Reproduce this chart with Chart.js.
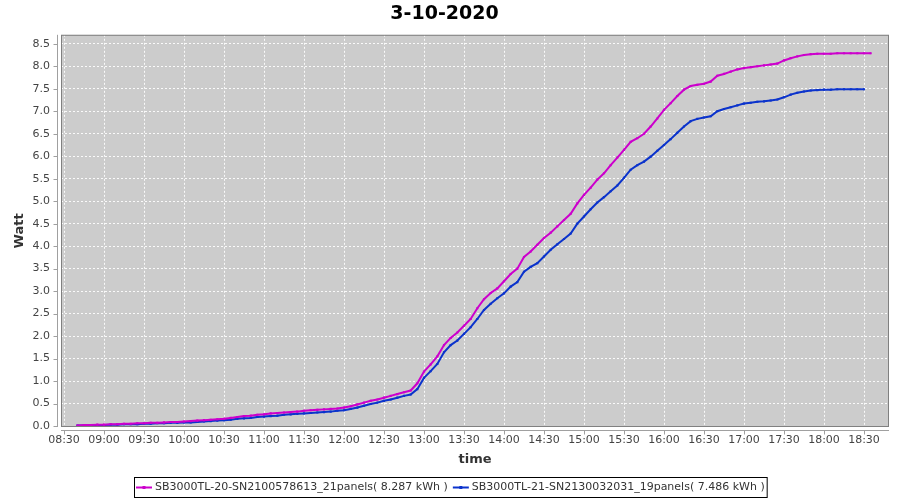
<!DOCTYPE html>
<html>
<head>
<meta charset="utf-8">
<title>3-10-2020</title>
<script src="https://cdn.jsdelivr.net/npm/chart.js@4.4.1/dist/chart.umd.min.js"></script>
<style>
  html, body { margin: 0; padding: 0; background: #fff; }
  canvas { display: block; }
</style>
</head>
<body>
<canvas id="chart" width="900" height="500"></canvas>
<script>
// sample times (5 min steps) and the two inverter series
const times = [
  '08:40','08:45','08:50','08:55',
  '09:00','09:05','09:10','09:15','09:20','09:25','09:30','09:35','09:40','09:45','09:50','09:55',
  '10:00','10:05','10:10','10:15','10:20','10:25','10:30','10:35','10:40','10:45','10:50','10:55',
  '11:00','11:05','11:10','11:15','11:20','11:25','11:30','11:35','11:40','11:45','11:50','11:55',
  '12:00','12:05','12:10','12:15','12:20','12:25','12:30','12:35','12:40','12:45','12:50','12:55',
  '13:00','13:05','13:10','13:15','13:20','13:25','13:30','13:35','13:40','13:45','13:50','13:55',
  '14:00','14:05','14:10','14:15','14:20','14:25','14:30','14:35','14:40','14:45','14:50','14:55',
  '15:00','15:05','15:10','15:15','15:20','15:25','15:30','15:35','15:40','15:45','15:50','15:55',
  '16:00','16:05','16:10','16:15','16:20','16:25','16:30','16:35','16:40','16:45','16:50','16:55',
  '17:00','17:05','17:10','17:15','17:20','17:25','17:30','17:35','17:40','17:45','17:50','17:55',
  '18:00','18:05','18:10','18:15','18:20','18:25','18:30','18:35'
];

const inverter20 = [
  0.01,0.02,0.02,0.03,
  0.03,0.04,0.04,0.05,0.05,0.06,0.06,0.07,0.07,0.08,0.09,0.09,
  0.10,0.11,0.12,0.13,0.14,0.15,0.16,0.18,0.20,0.22,0.23,0.25,
  0.26,0.28,0.29,0.30,0.31,0.32,0.34,0.35,0.36,0.37,0.38,0.39,
  0.41,0.44,0.48,0.52,0.56,0.59,0.63,0.67,0.71,0.75,0.79,0.95,
  1.21,1.37,1.55,1.80,1.96,2.08,2.23,2.38,2.62,2.82,2.96,3.06,
  3.22,3.38,3.50,3.76,3.88,4.03,4.18,4.30,4.44,4.58,4.72,4.95,
  5.14,5.30,5.48,5.62,5.80,5.97,6.14,6.32,6.40,6.50,6.66,6.84,
  7.03,7.18,7.34,7.48,7.56,7.59,7.61,7.66,7.79,7.83,7.88,7.93,
  7.96,7.98,8.00,8.02,8.04,8.06,8.13,8.18,8.22,8.25,8.27,8.28,
  8.28,8.28,8.29,8.29,8.29,8.29,8.29,8.29
];

const inverter21 = [
  0.01,0.01,0.02,0.02,
  0.02,0.03,0.03,0.04,0.04,0.04,0.05,0.05,0.06,0.06,0.07,0.07,
  0.08,0.08,0.09,0.10,0.11,0.12,0.13,0.14,0.16,0.17,0.18,0.20,
  0.21,0.22,0.23,0.25,0.26,0.27,0.28,0.29,0.30,0.31,0.32,0.34,
  0.35,0.38,0.41,0.45,0.49,0.52,0.56,0.59,0.63,0.67,0.70,0.82,
  1.07,1.22,1.38,1.64,1.80,1.90,2.05,2.20,2.38,2.58,2.72,2.84,
  2.95,3.10,3.20,3.43,3.54,3.62,3.77,3.92,4.04,4.16,4.28,4.50,
  4.66,4.82,4.97,5.09,5.22,5.35,5.52,5.70,5.80,5.88,5.99,6.12,
  6.25,6.38,6.52,6.66,6.78,6.83,6.86,6.89,7.00,7.05,7.09,7.13,
  7.17,7.19,7.21,7.22,7.24,7.26,7.31,7.37,7.41,7.44,7.46,7.47,
  7.48,7.48,7.49,7.49,7.49,7.49,7.49
];

const seriesNames = [
  'SB3000TL-20-SN2100578613_21panels( 8.287 kWh )',
  'SB3000TL-21-SN2130032031_19panels( 7.486 kWh )'
];
const seriesColors = ['#cc00cc', '#0b33cc'];

const xTickLabels = ['08:30','09:00','09:30','10:00','10:30','11:00','11:30','12:00','12:30','13:00','13:30',
  '14:00','14:30','15:00','15:30','16:00','16:30','17:00','17:30','18:00','18:30'];
const yTickValues = [0.0,0.5,1.0,1.5,2.0,2.5,3.0,3.5,4.0,4.5,5.0,5.5,6.0,6.5,7.0,7.5,8.0,8.5];

function toMinutes(hhmm) {
  const [h, m] = hhmm.split(':').map(Number);
  return h * 60 + m;
}

function points(values) {
  return values.map((v, i) => ({ x: toMinutes(times[i]), y: v }));
}

const FONT = 'DejaVu Sans';

// grey plot background, offset axis lines, boxed legend
const frame = {
  id: 'frame',
  beforeDraw(chart) {
    const { ctx, chartArea: a } = chart;
    ctx.save();
    ctx.fillStyle = '#cccccc';
    ctx.fillRect(a.left, a.top, a.right - a.left, a.bottom - a.top);
    ctx.restore();
  },
  afterDraw(chart) {
    const { ctx, chartArea: a, scales } = chart;
    ctx.save();
    ctx.lineWidth = 1;
    ctx.strokeStyle = '#808080';
    ctx.strokeRect(a.left + 0.5, a.top + 0.5, a.right - a.left - 1, a.bottom - a.top - 1);

    const ax = a.left - 3.5, ay = a.bottom + 3.5;
    ctx.strokeStyle = '#a0a0a0';
    ctx.beginPath();
    ctx.moveTo(ax, a.top); ctx.lineTo(ax, a.bottom);
    ctx.moveTo(a.left, ay); ctx.lineTo(a.right, ay);
    scales.y.ticks.forEach(t => {
      const y = Math.round(scales.y.getPixelForValue(t.value)) + 0.5;
      ctx.moveTo(ax, y); ctx.lineTo(ax - 4, y);
    });
    scales.x.ticks.forEach(t => {
      const x = Math.round(scales.x.getPixelForValue(t.value)) + 0.5;
      ctx.moveTo(x, ay); ctx.lineTo(x, ay + 4);
    });
    ctx.stroke();

    // legend
    ctx.font = '11px "' + FONT + '"';
    ctx.textBaseline = 'middle';
    const mark = 16, gap = 3, between = 5, pad = 2;
    const widths = chart.data.datasets.map(d => mark + gap + ctx.measureText(d.label).width);
    const total = widths.reduce((s, w) => s + w, 0) + between * (widths.length - 1) + pad * 2;
    const left = Math.round(450 - total / 2), top = 477, h = 20;
    ctx.strokeStyle = '#000';
    ctx.strokeRect(left + 0.5, top + 0.5, total, h);
    let x = left + pad;
    const cy = top + h / 2 + 0.5;
    chart.data.datasets.forEach((d, i) => {
      ctx.strokeStyle = d.borderColor;
      ctx.lineWidth = 2;
      ctx.beginPath();
      ctx.moveTo(x, cy); ctx.lineTo(x + mark, cy);
      ctx.stroke();
      ctx.fillStyle = d.borderColor;
      ctx.fillRect(x + mark / 2 - 1.5, cy - 1.5, 3, 3);
      ctx.fillStyle = '#333';
      ctx.fillText(d.label, x + mark + gap, cy);
      x += widths[i] + between;
    });
    ctx.restore();
  }
};

new Chart(document.getElementById('chart'), {
  type: 'line',
  data: {
    datasets: [
      { label: seriesNames[0], data: points(inverter20), borderColor: seriesColors[0], backgroundColor: seriesColors[0] },
      { label: seriesNames[1], data: points(inverter21), borderColor: seriesColors[1], backgroundColor: seriesColors[1] }
    ].map(d => Object.assign(d, {
      borderWidth: 2, pointRadius: 1.5, pointStyle: 'rect', pointBorderWidth: 0,
      tension: 0, fill: false
    }))
  },
  options: {
    responsive: false,
    devicePixelRatio: 1,
    animation: false,
    layout: { padding: { left: 0, right: 11, top: 0, bottom: 30 } },
    plugins: {
      legend: { display: false },
      tooltip: { enabled: false },
      title: {
        display: true,
        text: '3-10-2020',
        color: '#000',
        font: { family: FONT, size: 19, weight: 'bold' },
        padding: { top: 3, bottom: 9 }
      }
    },
    scales: {
      x: {
        type: 'linear',
        min: 507.75,
        max: 1128.75,
        afterFit: s => { s.height = 43; },
        afterBuildTicks: s => { s.ticks = xTickLabels.map(l => ({ value: toMinutes(l) })); },
        ticks: {
          autoSkip: false, maxRotation: 0, padding: 7, color: '#444',
          font: { family: FONT, size: 11 },
          callback: (v, i) => xTickLabels[i]
        },
        grid: { color: 'rgba(255,255,255,0.9)', lineWidth: 1, drawTicks: false },
        border: { display: false, dash: [2, 2] },
        title: {
          display: true, text: 'time', color: '#333',
          font: { family: FONT, size: 13, weight: 'bold' },
          padding: { top: 0, bottom: 3 }
        }
      },
      y: {
        min: -0.022,
        max: 8.70,
        afterFit: s => { s.width = 61; },
        afterBuildTicks: s => { s.ticks = yTickValues.map(v => ({ value: v })); },
        ticks: {
          padding: 11, color: '#444',
          font: { family: FONT, size: 11 },
          callback: v => v.toFixed(1)
        },
        grid: { color: 'rgba(255,255,255,0.9)', lineWidth: 1, drawTicks: false },
        border: { display: false, dash: [2, 2] },
        title: {
          display: true, text: 'Watt', color: '#333',
          font: { family: FONT, size: 13, weight: 'bold' },
          padding: { top: 12, bottom: 0 }
        }
      }
    }
  },
  plugins: [frame]
});
</script>
</body>
</html>
